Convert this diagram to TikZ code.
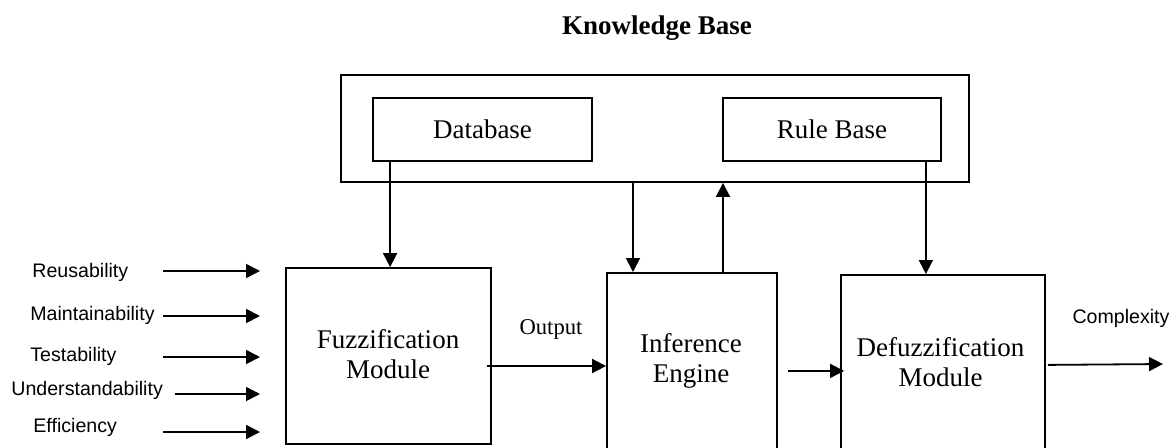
\documentclass[tikz,border=0pt]{standalone}
\usepackage{fontspec}
\setmainfont{Liberation Serif}
\setsansfont{Liberation Sans}
\usetikzlibrary{arrows.meta}
\tikzset{
  block/.style={draw,line width=0.9pt,inner sep=0pt,align=center,font=\fontsize{13.5}{15}\selectfont},
  arr/.style={line width=0.9pt,-{Triangle[length=7pt,width=7pt]}},
  inlabel/.style={font=\sffamily\fontsize{9.8}{11}\selectfont,inner sep=0pt,anchor=west},
}
\begin{document}
\begin{tikzpicture}[x=0.5pt,y=-0.5pt]
  \useasboundingbox (0,0) rectangle (1175,447);
  \clip (0,0) rectangle (1175,447);
  % Knowledge base
  \node[font=\bfseries\fontsize{13.5}{15}\selectfont] (kbtitle) at (657,28) {Knowledge Base};
  \node[block,minimum width=314pt,minimum height=53.5pt] (kb) at (655,128.5) {};
  \node[block,minimum width=109.5pt,minimum height=31.5pt] (db) at (482.5,129.5) {Database};
  \node[block,minimum width=109pt,minimum height=31.5pt] (rb) at (832,129.5) {Rule Base};
  % Modules
  \node[block,minimum width=102.5pt,minimum height=88pt] (fuzz) at (388.5,356) {};
  \node[block,draw=none] (fuzztext) at (388,354) {Fuzzification\\Module};
  \node[block,minimum width=85pt,minimum height=98pt,anchor=north] (inf) at (692,272) {};
  \node[block,draw=none] (inftext) at (691,361) {Inference\\Engine};
  \node[block,minimum width=102pt,minimum height=98pt,anchor=north] (dfz) at (943,274) {};
  \node[block,draw=none] (dfztext) at (940.5,362.5) {Defuzzification\\Module};
  % Links to and from the knowledge base
  \coordinate (dbout) at ([xshift=9pt]db.south west);
  \coordinate (kbout) at ([xshift=-11pt]kb.south);
  \coordinate (infup) at ([xshift=15.5pt]inf.north);
  \coordinate (rbout) at ([xshift=-8pt]rb.south east);
  \draw[arr] (dbout) -- (dbout |- fuzz.north);
  \draw[arr] (kbout) -- (kbout |- inf.north);
  \draw[arr] (infup) -- (infup |- kb.south);
  \draw[arr] (rbout) -- (rbout |- dfz.north);
  % Inputs
  \foreach \nm/\txt/\xl/\yl/\xs/\ya in {reu/Reusability/32/272/163/271,
      mai/Maintainability/30/315/163/316, tes/Testability/30/356/163/357,
      und/Understandability/11/390/175/394, eff/Efficiency/33/427/163/432}{
    \node[inlabel] (\nm) at (\xl,\yl) {\txt};
    \coordinate (\nm-s) at (\xs,\ya);
    \coordinate (\nm-e) at (260,\ya);
    \draw[arr] (\nm-s) -- (\nm-e);
  }
  % Chain through the modules
  \coordinate (fzout) at ([xshift=-2.5pt,yshift=-5pt]fuzz.east);
  \draw[arr] (fzout) -- (fzout -| inf.west);
  \node[font=\fontsize{11.3}{13}\selectfont] (outlbl) at (551,329) {Output};
  \coordinate (infout) at ([xshift=5pt]inf.east);
  \draw[arr] (infout) -- ([xshift=2pt]infout -| dfz.west);
  \coordinate (dfzout) at ([xshift=1pt,yshift=4pt]dfz.east);
  \coordinate (cplx) at (1163,364);
  \draw[arr] (dfzout) -- (cplx);
  \node[font=\sffamily\fontsize{9.8}{11}\selectfont] (cplxlbl) at (1121,318) {Complexity};
\end{tikzpicture}
\end{document}
